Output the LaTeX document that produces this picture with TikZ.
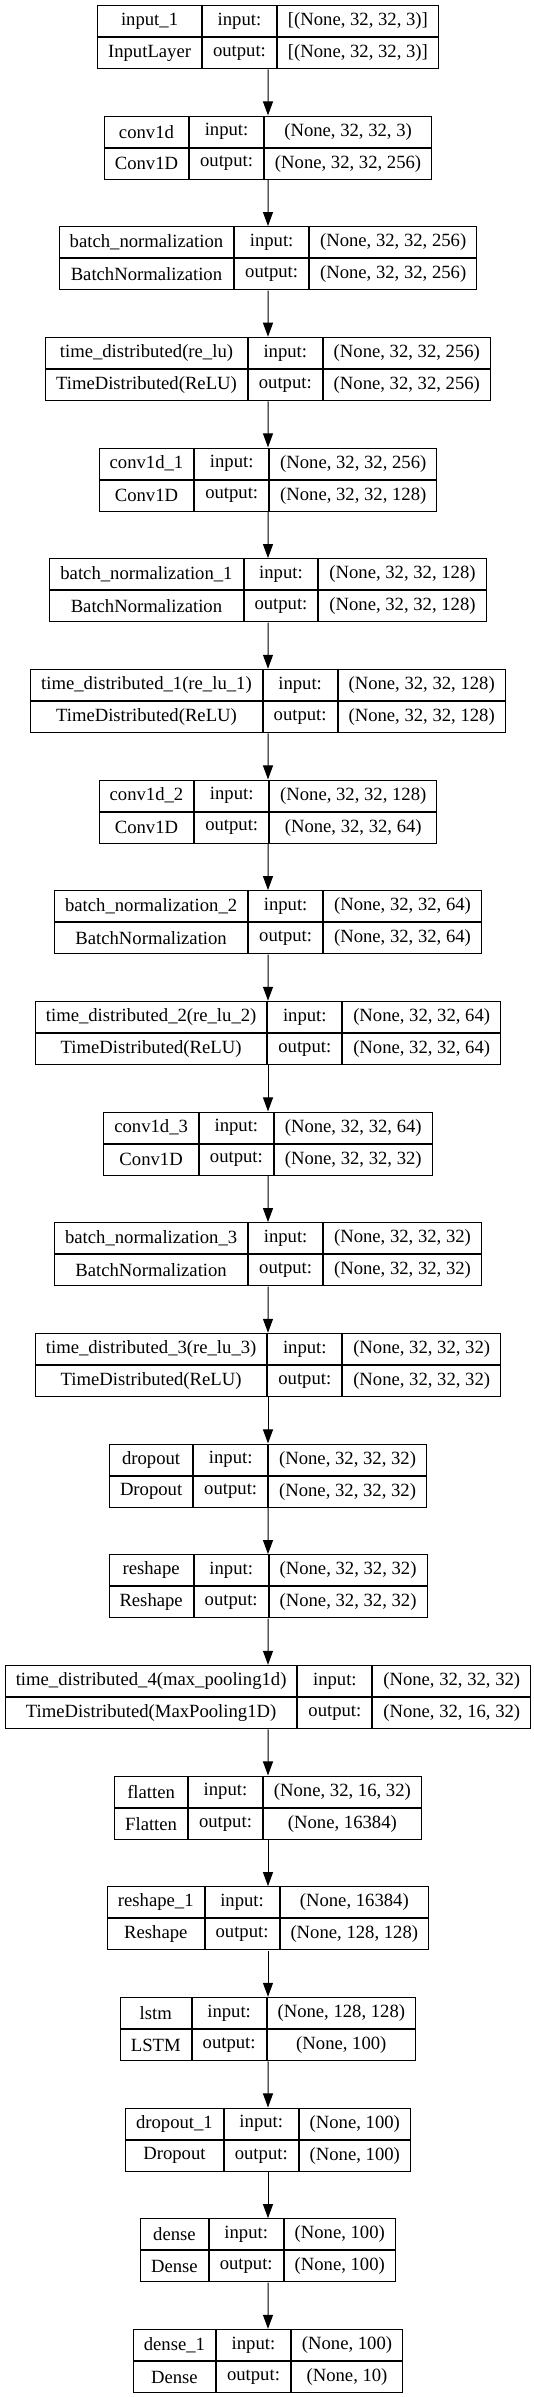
\documentclass[tikz,border=0pt]{standalone}
\usepackage{fontspec}
\setmainfont{Liberation Serif}
\usepackage{tikz}
\usetikzlibrary{positioning,arrows.meta,calc,fit}
\newlength\colA
\newlength\colB
\newlength\colC
\newlength\tmpw
\newlength\boxw
\newcommand{\lfont}{\fontsize{14}{16}\selectfont}
\tikzset{
  cell/.style={draw=black,line width=0.75pt,font=\lfont,minimum height=23.25pt,
    inner xsep=0pt,inner ysep=0pt,anchor=north west},
  whole/.style={inner sep=0pt},
  flow/.style={-{Triangle[length=10.5pt,width=7.5pt]},line width=0.75pt},
}
% widest of two texts, measured outside the picture's null font
\newcommand{\widest}[3]{%
  \pgfinterruptpicture
    \normalfont\lfont
    \settowidth\tmpw{#2}\global#1=\tmpw
    \settowidth\tmpw{#3}\ifdim\tmpw>#1 \global#1=\tmpw\fi
  \endpgfinterruptpicture}
% one layer box: node name, row, layer name, class, input shape, output shape
\newcommand{\layer}[6]{%
  \widest\colA{#3}{#4}%
  \widest\colB{input:}{output:}%
  \widest\colC{#5}{#6}%
  \addtolength\colA{15.75pt}\addtolength\colB{15.75pt}\addtolength\colC{15.75pt}%
  \boxw=\colA \addtolength\boxw{\colB}\addtolength\boxw{\colC}%
  \pgfmathsetmacro\ytop{5+110.67*#2}%
  \pgfmathsetmacro\xl{266.5-\boxw/1.5}%
  \node[cell,minimum width=\colA] (#1a) at (\xl,\ytop) {#3};
  \node[cell,minimum width=\colA] (#1b) at (#1a.south west) {#4};
  \node[cell,minimum width=\colB] (#1c) at (#1a.north east) {input:};
  \node[cell,minimum width=\colB] (#1d) at (#1c.south west) {output:};
  \node[cell,minimum width=\colC] (#1e) at (#1c.north east) {#5};
  \node[cell,minimum width=\colC] (#1f) at (#1e.south west) {#6};
  \node[whole,fit=(#1a)(#1f)] (#1) {};
}

\begin{document}
\begin{tikzpicture}[x=0.75pt,y=-0.75pt]
  \useasboundingbox (0,0) rectangle (533,2397);
  \layer{L0}{0}{input\_1}{InputLayer}{[(None, 32, 32, 3)]}{[(None, 32, 32, 3)]}
  \layer{L1}{1}{conv1d}{Conv1D}{(None, 32, 32, 3)}{(None, 32, 32, 256)}
  \layer{L2}{2}{batch\_normalization}{BatchNormalization}{(None, 32, 32, 256)}{(None, 32, 32, 256)}
  \layer{L3}{3}{time\_distributed(re\_lu)}{TimeDistributed(ReLU)}{(None, 32, 32, 256)}{(None, 32, 32, 256)}
  \layer{L4}{4}{conv1d\_1}{Conv1D}{(None, 32, 32, 256)}{(None, 32, 32, 128)}
  \layer{L5}{5}{batch\_normalization\_1}{BatchNormalization}{(None, 32, 32, 128)}{(None, 32, 32, 128)}
  \layer{L6}{6}{time\_distributed\_1(re\_lu\_1)}{TimeDistributed(ReLU)}{(None, 32, 32, 128)}{(None, 32, 32, 128)}
  \layer{L7}{7}{conv1d\_2}{Conv1D}{(None, 32, 32, 128)}{(None, 32, 32, 64)}
  \layer{L8}{8}{batch\_normalization\_2}{BatchNormalization}{(None, 32, 32, 64)}{(None, 32, 32, 64)}
  \layer{L9}{9}{time\_distributed\_2(re\_lu\_2)}{TimeDistributed(ReLU)}{(None, 32, 32, 64)}{(None, 32, 32, 64)}
  \layer{L10}{10}{conv1d\_3}{Conv1D}{(None, 32, 32, 64)}{(None, 32, 32, 32)}
  \layer{L11}{11}{batch\_normalization\_3}{BatchNormalization}{(None, 32, 32, 32)}{(None, 32, 32, 32)}
  \layer{L12}{12}{time\_distributed\_3(re\_lu\_3)}{TimeDistributed(ReLU)}{(None, 32, 32, 32)}{(None, 32, 32, 32)}
  \layer{L13}{13}{dropout}{Dropout}{(None, 32, 32, 32)}{(None, 32, 32, 32)}
  \layer{L14}{14}{reshape}{Reshape}{(None, 32, 32, 32)}{(None, 32, 32, 32)}
  \layer{L15}{15}{time\_distributed\_4(max\_pooling1d)}{TimeDistributed(MaxPooling1D)}{(None, 32, 32, 32)}{(None, 32, 16, 32)}
  \layer{L16}{16}{flatten}{Flatten}{(None, 32, 16, 32)}{(None, 16384)}
  \layer{L17}{17}{reshape\_1}{Reshape}{(None, 16384)}{(None, 128, 128)}
  \layer{L18}{18}{lstm}{LSTM}{(None, 128, 128)}{(None, 100)}
  \layer{L19}{19}{dropout\_1}{Dropout}{(None, 100)}{(None, 100)}
  \layer{L20}{20}{dense}{Dense}{(None, 100)}{(None, 100)}
  \layer{L21}{21}{dense\_1}{Dense}{(None, 100)}{(None, 10)}
  % edges between consecutive layers
  \foreach \i [evaluate=\i as \j using int(\i+1)] in {0,...,20}
    \draw[flow] (L\i.south) -- (L\j.north);
\end{tikzpicture}
\end{document}
